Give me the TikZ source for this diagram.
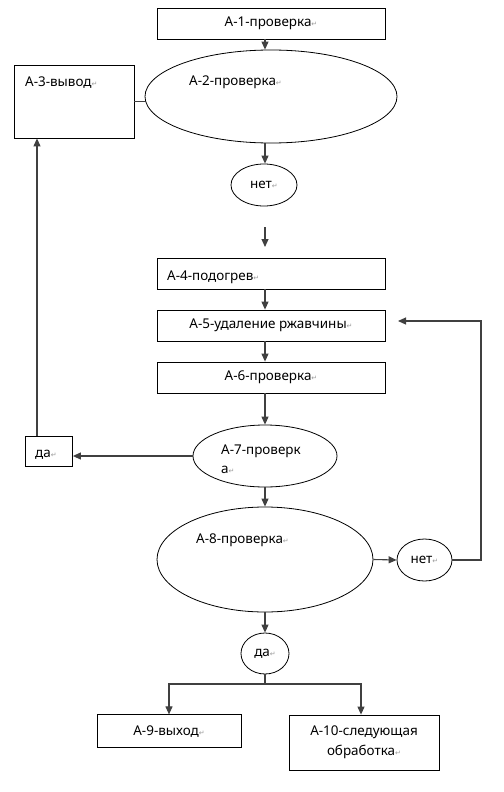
\documentclass[tikz,border=0pt]{standalone}
\usepackage{fontspec}
\setmainfont{Noto Sans}
\newfontfamily\symfnt{DejaVu Sans}
\usetikzlibrary{shapes.geometric,arrows.meta}
\newcommand\pmk{{\color{black!40}\symfnt\fontsize{7}{7}\selectfont ↵}}
\begin{document}
\begin{tikzpicture}[x=1bp,y=-1bp,
  every node/.style={font=\fontsize{13.5}{20}\selectfont},
  box/.style={draw=black, line width=0.8bp, rectangle, inner sep=0pt},
  oval/.style={draw=black, line width=0.8bp, ellipse, inner sep=0pt},
  txt/.style={inner sep=0pt, anchor=base west},
  conn/.style={draw=black!75, line width=1.1bp},
  arr/.style={conn, -{Triangle[length=8bp,width=7bp]}}]
\useasboundingbox[fill=white] (0,0) rectangle (504,792);
\coordinate (sp) at (265,0);
\coordinate (lx) at (37,0);
% boxes and ovals
\node[box, minimum width=228bp, minimum height=31bp] (a1) at (271,23.5) {А-1-проверка\pmk};
\node[oval, minimum width=252bp, minimum height=93bp] (a2) at (271,96.5) {};
\node[txt] (a2t) at (189,85) {А-2-проверка\pmk};
\node[box, minimum width=120bp, minimum height=73bp] (a3) at (74,101.5) {};
\node[txt] (a3t) at (25,86) {А-3-вывод\pmk};
\node[oval, minimum width=66bp, minimum height=42bp] (n1) at (264,185) {нет\pmk};
\coordinate (f1) at (265,227);
\coordinate (f2) at (265,247);
\node[box, minimum width=228bp, minimum height=31bp] (a4) at (271,273.5) {};
\node[txt] (a4t) at (167,280) {А-4-подогрев\pmk};
\node[box, minimum width=228bp, minimum height=31bp] (a5) at (271,325.5) {А-5-удаление ржавчины\pmk};
\node[box, minimum width=228bp, minimum height=31bp] (a6) at (271,377.5) {А-6-проверка\pmk};
\node[oval, minimum width=144bp, minimum height=62bp] (a7) at (265,456) {};
\node[txt] (a7t1) at (221,454) {А-7-проверк};
\node[txt] (a7t2) at (221,473) {а\pmk};
\node[box, minimum width=47bp, minimum height=30bp] (da1) at (49,451) {};
\node[txt] (da1t) at (35,457) {да\pmk};
\node[oval, minimum width=216bp, minimum height=105bp] (a8) at (265,559.5) {};
\node[txt] (a8t) at (196,543) {А-8-проверка\pmk};
\node[oval, minimum width=55bp, minimum height=42bp] (n2) at (424.5,560) {нет\pmk};
\node[oval, minimum width=48bp, minimum height=41bp] (d2) at (265,653.5) {да\pmk};
\node[box, minimum width=144bp, minimum height=33bp] (a9) at (169,731.3) {А-9-выход\pmk};
\node[box, minimum width=150bp, minimum height=55bp, align=center] (a10) at (364,742.5) {А-10-следующая\\обработка\pmk};
\coordinate (r5) at (398,321);
\coordinate (rx) at (481,321);
\coordinate (fk) at (265,684);
\coordinate (fk10) at (361,684);
% connectors
\draw[arr] (a1.south -| sp) -- (a2.north -| sp);
\draw[conn] (a3.east) -- (a3.east -| a2.west);
\draw[arr] (a2.south -| sp) -- (n1.north -| sp);
\draw[arr] (f1) -- (f2);
\draw[arr] (a4.south -| sp) -- (a5.north -| sp);
\draw[arr] (a5.south -| sp) -- (a6.north -| sp);
\draw[arr] (a6.south -| sp) -- (a7.north);
\draw[arr] (a7.west) -- (a7.west -| da1.east);
\draw[arr] (da1.north -| lx) -- (a3.south -| lx);
\draw[arr] (a7.south) -- (a8.north);
\draw[arr] (a8.east) -- (n2.west);
\draw[arr] (n2.east) -| (rx) -- (r5);
\draw[arr] (a8.south) -- (d2.north);
\draw[conn] (d2.south) -- (fk);
\draw[arr] (fk) -| (a9.north);
\draw[arr] (fk) -- (fk10) -- (a10.north -| fk10);
\end{tikzpicture}
\end{document}
